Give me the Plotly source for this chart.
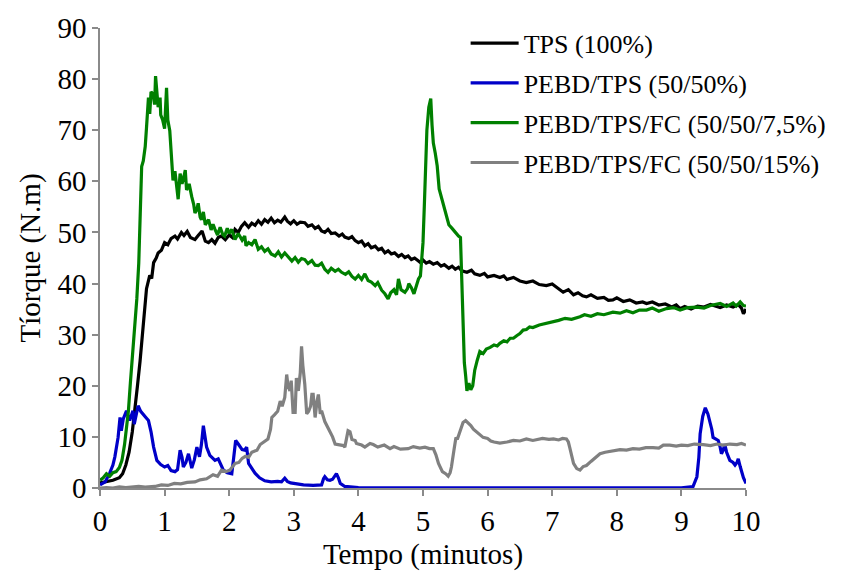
import plotly.graph_objects as go

# ---------------- data ----------------
series_names = ["TPS (100%)", "PEBD/TPS (50/50%)",
                "PEBD/TPS/FC (50/50/7,5%)", "PEBD/TPS/FC (50/50/15%)"]
series_colors = ["#000000", "#0000C8", "#008000", "#808080"]

tps_x = [0.0, 0.1, 0.2, 0.3, 0.35, 0.4, 0.45, 0.5, 0.54, 0.58, 0.62, 0.67, 0.72, 0.77, 0.8, 0.83, 0.87, 0.9, 0.95, 1.0,
         1.05, 1.1, 1.16, 1.2, 1.26, 1.3, 1.35, 1.4, 1.47, 1.52, 1.58, 1.63, 1.68, 1.73, 1.78, 1.83, 1.88, 1.94, 2.0,
         2.05, 2.09, 2.14, 2.19, 2.24, 2.3, 2.35, 2.4, 2.45, 2.5, 2.55, 2.6, 2.65, 2.7, 2.75, 2.8, 2.86, 2.9, 2.95, 3.0,
         3.05, 3.1, 3.17, 3.22, 3.28, 3.33, 3.38, 3.43, 3.48, 3.53, 3.58, 3.64, 3.7, 3.75, 3.79, 3.85, 3.9, 3.95, 4.0,
         4.05, 4.1, 4.15, 4.2, 4.26, 4.31, 4.36, 4.41, 4.46, 4.51, 4.56, 4.62, 4.67, 4.72, 4.77, 4.82, 4.87, 4.92, 4.97,
         5.0, 5.05, 5.1, 5.16, 5.22, 5.28, 5.33, 5.4, 5.45, 5.5, 5.55, 5.6, 5.68, 5.75, 5.8, 5.88, 5.95, 6.0, 6.1, 6.19,
         6.25, 6.3, 6.4, 6.5, 6.6, 6.7, 6.8, 6.91, 7.0, 7.1, 7.17, 7.25, 7.33, 7.4, 7.47, 7.53, 7.6, 7.7, 7.8, 7.87,
         7.94, 8.0, 8.1, 8.2, 8.3, 8.4, 8.46, 8.55, 8.65, 8.75, 8.85, 8.92, 8.98, 9.05, 9.15, 9.25, 9.35, 9.45, 9.5,
         9.6, 9.7, 9.8, 9.88, 9.93, 9.96, 10.0]
tps_y = [1.0, 1.2, 1.5, 2.0, 2.8, 4.5, 7.0, 11.0, 15.1, 20.0, 24.8, 32.5, 39.0, 41.6, 41.0, 44.1, 45.0, 46.0, 46.5, 48.0,
         47.6, 48.8, 49.3, 48.7, 50.0, 49.4, 50.2, 49.0, 48.6, 49.4, 50.3, 48.3, 48.0, 48.6, 47.9, 49.0, 49.3, 48.6, 49.5,
         49.0, 50.6, 50.0, 51.2, 51.9, 51.0, 51.8, 51.4, 52.3, 51.6, 52.5, 52.0, 52.8, 51.9, 52.4, 52.0, 53.0, 52.2, 51.7, 52.3,
         51.6, 52.0, 51.9, 51.2, 51.5, 50.8, 51.2, 50.3, 50.0, 50.6, 49.8, 49.9, 49.3, 49.7, 49.1, 48.8, 49.2, 48.4, 48.0,
         48.3, 47.4, 47.8, 47.0, 47.3, 46.6, 46.9, 46.0, 46.4, 45.8, 46.0, 45.3, 45.7, 45.1, 45.4, 44.7, 45.0, 44.5, 44.0,
         44.6, 44.0, 44.3, 43.8, 44.1, 43.4, 43.7, 43.0, 43.4, 42.8, 43.2, 42.5, 42.2, 42.6, 41.9, 41.6, 42.0, 41.3, 41.6, 41.2,
         41.5, 40.8, 41.2, 40.5, 40.2, 40.5, 39.8, 39.6, 39.9, 38.9, 38.3, 38.8, 37.8, 38.2, 37.6, 37.4, 37.8, 37.1, 37.3, 36.7,
         36.8, 37.2, 36.5, 36.8, 36.2, 36.4, 36.1, 36.4, 35.8, 36.0, 35.4, 35.8, 35.1, 35.5, 35.0, 35.6, 35.4, 35.9, 35.7,
         35.3, 35.8, 35.4, 35.9, 35.2, 34.1, 35.0]

pebd_x = [0.0, 0.08, 0.15, 0.2, 0.23, 0.28, 0.31, 0.33, 0.36, 0.41, 0.46, 0.51, 0.53, 0.56, 0.59, 0.63, 0.67, 0.71, 0.75,
          0.79, 0.83, 0.88, 0.94, 1.0, 1.05, 1.1, 1.16, 1.2, 1.24, 1.27, 1.29, 1.33, 1.37, 1.4, 1.42, 1.46, 1.5, 1.54,
          1.57, 1.6, 1.63, 1.65, 1.7, 1.74, 1.78, 1.83, 1.87, 1.91, 1.97, 2.04, 2.07, 2.1, 2.14, 2.17, 2.2, 2.24, 2.27,
          2.3, 2.34, 2.4, 2.47, 2.55, 2.65, 2.75, 2.81, 2.86, 2.9, 2.95, 3.05, 3.15, 3.3, 3.43, 3.46, 3.48, 3.52, 3.56,
          3.6, 3.66, 3.69, 3.72, 3.79, 4.0, 5.0, 6.0, 7.0, 8.0, 9.0, 9.18, 9.24, 9.27, 9.29, 9.33, 9.37, 9.41, 9.44,
          9.47, 9.49, 9.53, 9.57, 9.6, 9.62, 9.65, 9.67, 9.7, 9.75, 9.8, 9.83, 9.86, 9.88, 9.91, 9.93, 9.96, 10.0]
pebd_y = [0.6, 1.2, 2.9, 4.5, 6.1, 9.9, 13.8, 11.2, 13.5, 15.1, 13.2, 15.1, 12.5, 14.0, 16.1, 15.0, 14.5, 13.8, 13.2,
          11.0, 8.0, 5.4, 4.6, 4.1, 4.4, 3.4, 3.2, 3.6, 7.4, 6.0, 4.1, 5.0, 6.7, 5.0, 3.9, 5.5, 8.0, 6.1,
          8.5, 12.2, 10.0, 8.0, 6.4, 5.8, 5.4, 5.7, 4.5, 3.5, 3.0, 2.8, 6.0, 9.3, 8.6, 8.0, 7.5, 7.4, 8.0,
          4.8, 4.1, 2.9, 2.0, 1.4, 1.2, 1.3, 1.2, 1.9, 1.3, 1.0, 0.8, 0.6, 0.5, 0.6, 1.8, 2.2, 1.6, 1.5,
          1.7, 2.8, 2.0, 0.9, 0.3, 0.1, 0.05, 0.05, 0.05, 0.05, 0.05, 0.3, 2.2, 6.0, 10.6, 14.0, 15.7, 14.5, 13.2,
          11.5, 9.9, 9.6, 9.3, 8.0, 6.7, 7.5, 8.6, 7.0, 5.4, 5.0, 4.5, 5.0, 5.7, 4.2, 3.2, 2.0, 0.9]

fc75_x = [0.0, 0.05, 0.1, 0.15, 0.2, 0.25, 0.3, 0.34, 0.38, 0.41, 0.44, 0.47, 0.5, 0.54, 0.57, 0.6, 0.62, 0.645, 0.67,
          0.7, 0.72, 0.75, 0.77, 0.79, 0.825, 0.845, 0.86, 0.88, 0.9, 0.93, 0.94, 0.97, 1.0, 1.03, 1.05, 1.08, 1.1,
          1.13, 1.16, 1.19, 1.21, 1.24, 1.27, 1.3, 1.32, 1.34, 1.38, 1.42, 1.45, 1.47, 1.5, 1.52, 1.55, 1.57, 1.6, 1.63,
          1.68, 1.72, 1.75, 1.78, 1.82, 1.86, 1.9, 1.93, 1.97, 2.0, 2.04, 2.09, 2.14, 2.2, 2.24, 2.26, 2.3, 2.35, 2.4,
          2.45, 2.5, 2.55, 2.6, 2.65, 2.71, 2.76, 2.81, 2.86, 2.92, 2.97, 3.02, 3.07, 3.12, 3.17, 3.22, 3.28, 3.33,
          3.38, 3.43, 3.48, 3.53, 3.58, 3.64, 3.69, 3.74, 3.8, 3.85, 3.9, 3.95, 4.0, 4.05, 4.1, 4.15, 4.2, 4.26, 4.3,
          4.36, 4.41, 4.46, 4.5, 4.55, 4.59, 4.62, 4.66, 4.72, 4.76, 4.78, 4.82, 4.86, 4.9, 4.93, 4.96, 4.98, 5.0,
          5.02, 5.04, 5.06, 5.09, 5.12, 5.14, 5.16, 5.19, 5.22, 5.25, 5.28, 5.32, 5.36, 5.4, 5.45, 5.5, 5.55, 5.58,
          5.6, 5.62, 5.64, 5.66, 5.68, 5.71, 5.74, 5.77, 5.8, 5.84, 5.88, 5.93, 5.98, 6.04, 6.1, 6.15, 6.19, 6.25,
          6.3, 6.35, 6.4, 6.45, 6.5, 6.55, 6.6, 6.65, 6.7, 6.8, 6.91, 7.0, 7.1, 7.2, 7.3, 7.43, 7.5, 7.6, 7.7, 7.8,
          7.94, 8.05, 8.15, 8.25, 8.35, 8.46, 8.55, 8.65, 8.77, 8.88, 8.98, 9.1, 9.24, 9.35, 9.45, 9.6, 9.7, 9.8,
          9.85, 9.91, 9.96, 10.0]
fc75_y = [1.5, 2.0, 2.8, 2.3, 3.0, 3.2, 4.0, 5.4, 8.5, 11.5, 15.1, 20.5, 25.0, 31.2, 37.0, 44.0, 52.0, 62.9, 64.0,
          66.8, 70.5, 76.4, 73.2, 77.5, 77.0, 75.0, 80.6, 78.0, 74.5, 76.4, 73.0, 72.0, 70.3, 78.3, 72.0, 69.9, 66.0,
          60.2, 62.0, 58.3, 56.5, 61.5, 59.5, 61.0, 62.2, 58.3, 59.5, 57.0, 55.5, 53.8, 54.5, 55.7, 53.0, 52.5, 54.0, 51.5,
          52.5, 50.5, 51.6, 50.6, 49.5, 51.0, 49.6, 49.3, 50.8, 49.8, 50.6, 48.6, 49.8, 48.5, 49.3, 47.4, 48.0, 47.6, 48.6,
          46.7, 47.2, 46.3, 46.8, 45.8, 45.4, 46.2, 45.2, 46.0, 45.0, 44.4, 45.1, 44.2, 44.9, 44.7, 43.9, 44.5, 43.6,
          43.5, 44.0, 42.8, 42.2, 43.0, 42.4, 42.8, 42.2, 41.8, 42.3, 41.4, 40.9, 41.6, 40.8, 41.9, 40.6, 40.3, 39.6, 40.2,
          38.7, 38.0, 37.0, 38.2, 38.8, 37.8, 40.9, 38.8, 38.3, 39.0, 40.0, 39.2, 38.0, 39.5, 40.9, 41.5, 44.1, 48.0,
          55.0, 63.0, 70.0, 74.5, 76.2, 71.0, 67.5, 65.5, 63.0, 58.5, 57.0, 55.5, 53.0, 51.5, 50.8, 50.0, 49.3, 49.0,
          40.0, 30.0, 24.5, 22.0, 19.0, 20.5, 19.2, 20.0, 23.0, 25.0, 26.7, 26.3, 27.2, 27.5, 28.0, 27.8, 28.3, 28.8,
          28.6, 29.3, 29.3, 29.8, 30.2, 30.9, 31.0, 31.5, 31.4, 31.9, 32.2, 32.6, 32.8, 33.2, 33.0, 33.5, 33.9, 33.6, 34.1, 33.9,
          34.4, 34.2, 34.7, 34.3, 34.8, 34.8, 35.2, 34.6, 35.1, 35.3, 34.8, 35.3, 35.4, 35.2, 35.7, 36.1, 35.5, 36.2,
          35.6, 36.4, 35.7, 35.6]

fc15_x = [0.0, 0.1, 0.2, 0.3, 0.4, 0.5, 0.6, 0.7, 0.85, 0.95, 1.05, 1.15, 1.25, 1.35, 1.47, 1.55, 1.65, 1.75, 1.82, 1.88,
          1.95, 2.01, 2.05, 2.09, 2.15, 2.2, 2.25, 2.3, 2.35, 2.4, 2.43, 2.48, 2.53, 2.57, 2.6, 2.64, 2.66, 2.7, 2.75,
          2.79, 2.82, 2.86, 2.89, 2.91, 2.94, 2.96, 2.99, 3.01, 3.02, 3.04, 3.07, 3.1, 3.12, 3.14, 3.17, 3.2, 3.23, 3.26,
          3.28, 3.3, 3.33, 3.36, 3.38, 3.41, 3.43, 3.48, 3.52, 3.56, 3.6, 3.64, 3.7, 3.77, 3.79, 3.82, 3.84, 3.87, 3.9,
          3.95, 3.97, 4.05, 4.1, 4.18, 4.23, 4.3, 4.4, 4.49, 4.55, 4.65, 4.77, 4.85, 4.95, 5.03, 5.1, 5.16, 5.2, 5.24,
          5.3, 5.35, 5.39, 5.42, 5.44, 5.48, 5.51, 5.53, 5.56, 5.6, 5.62, 5.66, 5.7, 5.74, 5.78, 5.85, 5.93, 6.0, 6.05,
          6.1, 6.19, 6.3, 6.4, 6.5, 6.6, 6.7, 6.76, 6.85, 6.95, 7.02, 7.1, 7.16, 7.22, 7.25, 7.27, 7.3, 7.33, 7.38,
          7.43, 7.48, 7.53, 7.6, 7.67, 7.74, 7.82, 7.9, 8.05, 8.15, 8.25, 8.35, 8.45, 8.56, 8.65, 8.72, 8.82, 8.92, 9.0,
          9.1, 9.2, 9.34, 9.45, 9.55, 9.65, 9.75, 9.86, 9.93, 10.0]
fc15_y = [0.0, 0.1, 0.0, 0.2, 0.1, 0.2, 0.3, 0.2, 0.3, 0.6, 0.5, 0.9, 0.8, 1.1, 1.2, 1.6, 1.8, 2.6, 2.3, 3.5,
          3.2, 3.5, 4.2, 4.8, 5.0, 5.8, 6.2, 6.0, 7.0, 7.3, 7.4, 8.5, 9.0, 9.3, 9.6, 11.5, 13.8, 14.3, 15.0,
          17.0, 16.0, 17.7, 22.2, 20.0, 19.0, 21.0, 14.5, 16.5, 14.5, 21.5, 19.0, 22.5, 27.7, 24.0, 20.3, 14.5, 15.0, 16.0,
          18.3, 18.3, 13.8, 17.0, 18.3, 14.5, 15.1, 13.0, 12.0, 11.2, 10.0, 8.6, 8.4, 8.3, 8.0, 10.0, 11.2, 11.0, 9.5,
          9.3, 8.7, 8.4, 8.0, 8.7, 8.5, 8.0, 8.4, 7.7, 8.1, 7.6, 7.7, 8.1, 7.8, 8.0, 7.7, 7.7, 6.5, 4.8,
          3.2, 2.8, 2.3, 3.0, 4.1, 7.5, 9.9, 9.5, 10.6, 12.5, 12.8, 13.2, 12.8, 12.2, 11.5, 10.8, 9.9, 9.7, 9.2,
          9.0, 8.8, 9.0, 9.3, 9.2, 9.6, 9.3, 9.4, 9.7, 9.5, 9.6, 9.4, 9.7, 9.6, 9.0, 8.0, 6.2, 4.8, 3.8,
          3.5, 4.2, 4.4, 5.2, 6.0, 6.7, 7.0, 7.2, 7.5, 7.4, 7.7, 7.6, 7.9, 7.9, 7.8, 8.4, 8.4, 8.2, 8.4,
          8.3, 8.6, 8.5, 8.3, 8.6, 8.4, 8.6, 8.5, 8.7, 8.4]

x_ticks = [0, 1, 2, 3, 4, 5, 6, 7, 8, 9, 10]
y_ticks = [0, 10, 20, 30, 40, 50, 60, 70, 80, 90]

# ---------------- figure ----------------
FONT = "Liberation Serif, Times New Roman, serif"
AXIS_GRAY = "#8a8a8a"

fig = go.Figure()
all_x = [tps_x, pebd_x, fc75_x, fc15_x]
all_y = [tps_y, pebd_y, fc75_y, fc15_y]
for i, (xs, ys) in enumerate(zip(all_x, all_y)):
    fig.add_trace(go.Scatter(
        x=xs, y=ys, mode="lines", name=series_names[i],
        line=dict(color=series_colors[i], width=3.2),
        legendgroup="g%d" % i,
    ))

# page body has an 8px default margin, so the figure is 8px smaller than the window
fig.update_layout(
    width=835, height=568,
    margin=dict(l=92, r=97, t=15, b=88),
    paper_bgcolor="white", plot_bgcolor="white",
    font=dict(family=FONT, size=29, color="black"),
    showlegend=True,
    legend=dict(
        x=0.566, y=1.018, xanchor="left", yanchor="top",
        font=dict(family=FONT, size=26, color="black"),
        bgcolor="rgba(0,0,0,0)", tracegroupgap=3,
        itemwidth=48,
    ),
    xaxis=dict(
        range=[0, 10], tickvals=x_ticks, ticktext=[str(v) for v in x_ticks],
        showgrid=False, zeroline=False, showline=True, linecolor=AXIS_GRAY, linewidth=1.5,
        ticks="outside", ticklen=6, tickcolor=AXIS_GRAY, tickwidth=1.5, automargin=False,
        ticklabeloverflow="allow",
        tickfont=dict(family=FONT, size=29, color="black"),
        title=dict(text="Tempo (minutos)", font=dict(family=FONT, size=29, color="black"), standoff=8),
    ),
    yaxis=dict(
        range=[0, 90], tickvals=y_ticks, ticktext=[str(v) for v in y_ticks],
        showgrid=False, zeroline=False, showline=True, linecolor=AXIS_GRAY, linewidth=1.5,
        ticks="outside", ticklen=6, tickcolor=AXIS_GRAY, tickwidth=1.5, automargin=False,
        ticklabeloverflow="allow",
        tickfont=dict(family=FONT, size=29, color="black"),
        title=dict(text="Tíorque (N.m)", font=dict(family=FONT, size=29, color="black"), standoff=8),
    ),
)

fig.write_html("out.html")
